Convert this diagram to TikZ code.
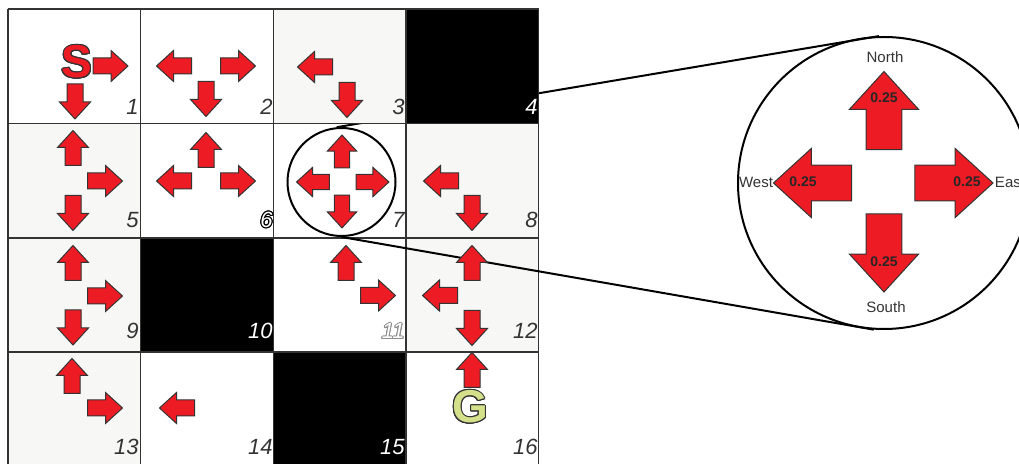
\documentclass[tikz,border=0pt]{standalone}
\usepackage{fontspec}
\setmainfont{Liberation Sans}
\usepackage{contour}
\contourlength{0.5pt}
\usetikzlibrary{positioning}
\definecolor{arrowred}{HTML}{ED1C24}
\definecolor{cellgray}{HTML}{F7F7F5}
\definecolor{goalgreen}{HTML}{D5E08A}
\definecolor{textgray}{HTML}{333333}
\tikzset{
 arrowbody/.style={fill=arrowred, draw=black!80, line width=0.5pt},
 cellnum/.style={font=\itshape\fontsize{11}{11}\selectfont, text=textgray, anchor=base east, inner sep=0pt},
 dirlabel/.style={font=\fontsize{7.5}{7.5}\selectfont, text=textgray, inner sep=0pt},
 problabel/.style={font=\bfseries\fontsize{7}{7}\selectfont, text=black!85, inner sep=0pt},
 bigletter/.style={font=\bfseries\fontsize{23}{23}\selectfont, inner sep=0pt},
}
% block arrow: [scale]{x}{y}{angle}
\newcommand{\cellarrow}[4][1]{\draw[arrowbody, shift={(#2,#3)}, rotate=#4, scale=#1] (-17.5,-8) -- (0.5,-8) -- (0.5,-15.5) -- (17.5,0) -- (0.5,15.5) -- (0.5,8) -- (-17.5,8) -- cycle;}

\begin{document}
\begin{tikzpicture}[x=0.5pt, y=-0.5pt]
 \useasboundingbox (0,0) rectangle (1019,464);
 \node[circle, draw, line width=1pt, minimum size=54pt, inner sep=0pt] (zoomsmall) at (341.5,182) {};
 \node[circle, draw, line width=1pt, minimum size=146pt, inner sep=0pt] (zoombig) at (884,183) {};
 \draw[line width=1pt] (zoomsmall.95) -- (zoombig.92);
 % shaded and blocked cells
 \fill[cellgray] (273.3,9) rectangle (406,123.5);
 \fill[cellgray] (8,123.5) rectangle (140.7,238);
 \fill[cellgray] (406,123.5) rectangle (538.7,238);
 \fill[cellgray] (8,238) rectangle (140.7,352);
 \fill[cellgray] (406,238) rectangle (538.7,352);
 \fill[cellgray] (8,352) rectangle (140.7,466.5);
 \fill[black] (406,9) rectangle (538.7,123.5);
 \fill[black] (140.7,238) rectangle (273.3,352);
 \fill[black] (273.3,352) rectangle (406,466.5);
 % grid
 \foreach \gx in {8,140.7,273.3,406,538.7}
  \draw[textgray, line width=0.6pt] (\gx,9) -- (\gx,466.5);
 \foreach \gy in {9,123.5,238,352,466.5}
  \draw[textgray, line width=0.6pt] (8,\gy) -- (538.7,\gy);
 \draw[line width=1pt] (zoomsmall.south) -- (zoombig.266);

 \node[bigletter] (start) at (77,62.5) {\contour{black!80}{\textcolor{arrowred}{S}}};
 \node[bigletter] (goal) at (470,407.5) {\contour{black!80}{\textcolor{goalgreen}{G}}};

 \cellarrow{110.5}{66}{0}
 \cellarrow{75}{101.5}{270}
 \cellarrow{174}{66}{180}
 \cellarrow{238}{66}{0}
 \cellarrow{206}{99}{270}
 \cellarrow{315}{67}{180}
 \cellarrow{347}{100}{270}
 \cellarrow{73}{148}{90}
 \cellarrow{105}{181}{0}
 \cellarrow{73}{213}{270}
 \cellarrow{206}{150}{90}
 \cellarrow{174}{181}{180}
 \cellarrow{238}{181}{0}
 \cellarrow[0.94]{342}{151.5}{90}
 \cellarrow[0.94]{313}{182}{180}
 \cellarrow[0.94]{372.5}{182}{0}
 \cellarrow[0.94]{342}{211.5}{270}
 \cellarrow{441}{181}{180}
 \cellarrow{472}{213}{270}
 \cellarrow{73}{263}{90}
 \cellarrow{105}{296}{0}
 \cellarrow{73}{327.5}{270}
 \cellarrow{346}{263}{90}
 \cellarrow{378}{295.5}{0}
 \cellarrow{472}{263}{90}
 \cellarrow{440}{295.5}{180}
 \cellarrow{472}{328}{270}
 \cellarrow{72}{376}{90}
 \cellarrow{105}{408}{0}
 \cellarrow{177}{408}{180}
 \cellarrow{472}{370}{90}

 \node[cellnum] (n1) at (139,115) {1};
 \node[cellnum] (n2) at (273,115) {2};
 \node[cellnum] (n3) at (405,115) {3};
 \node[cellnum, text=white] (n4) at (538,115) {4};
 \node[cellnum] (n5) at (139,227.5) {5};
 \node[cellnum] (n6) at (273,227.5) {\contour{black}{\textcolor{white}{6}}};
 \node[cellnum] (n7) at (405,227.5) {7};
 \node[cellnum] (n8) at (538,227.5) {8};
 \node[cellnum] (n9) at (139,339) {9};
 \node[cellnum, text=white] (n10) at (273,339) {10};
 \node[cellnum] (n11) at (405,339) {\contour{black!45}{\textcolor{white}{11}}};
 \node[cellnum] (n12) at (538,339) {12};
 \node[cellnum] (n13) at (139,455) {13};
 \node[cellnum] (n14) at (273,455) {14};
 \node[cellnum, text=white] (n15) at (405,455) {15};
 \node[cellnum] (n16) at (538,455) {16};

 % zoomed policy of cell 7
 \cellarrow[2.23]{884}{110.5}{90}
 \cellarrow[2.23]{884}{253}{270}
 \cellarrow[2.23]{812.5}{183}{180}
 \cellarrow[2.23]{954}{183}{0}
 \node[problabel] (pnorth) at (884,98) {0.25};
 \node[problabel] (psouth) at (884,262) {0.25};
 \node[problabel] (pwest) at (803,182) {0.25};
 \node[problabel] (peast) at (967,182) {0.25};
 \node[dirlabel] (lnorth) at (885,57) {North};
 \node[dirlabel] (lsouth) at (886,307) {South};
 \node[dirlabel] (lwest) at (756,182) {West};
 \node[dirlabel] (least) at (1010,182) {East};
\end{tikzpicture}
\end{document}
